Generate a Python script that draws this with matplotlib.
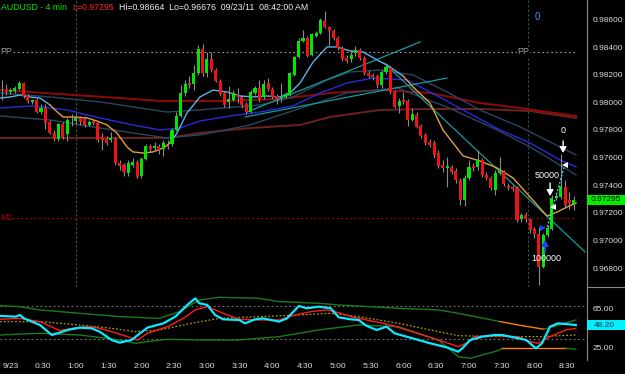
import numpy as np
import matplotlib
matplotlib.use('Agg')
import matplotlib.pyplot as plt
from matplotlib.transforms import blended_transform_factory
from matplotlib.patches import Rectangle
from matplotlib.lines import Line2D

plt.rcParams['font.family'] = ['Liberation Sans', 'DejaVu Sans']

# 4 minute bars, minutes after midnight of 9/23
bar_minutes = np.arange(-8, 520, 4)

opens = [
    0.98097, 0.98097, 0.98075, 0.98082, 0.98097, 0.98140, 0.98046, 0.98003, 0.98017, 0.97930,
    0.97959, 0.97858, 0.97778, 0.97735, 0.97843, 0.97771, 0.97872, 0.97865, 0.97887, 0.97879,
    0.97836, 0.97865, 0.97850, 0.97749, 0.97735, 0.97727, 0.97735, 0.97561, 0.97546, 0.97488,
    0.97546, 0.97568, 0.97467, 0.97590, 0.97684, 0.97669, 0.97684, 0.97662, 0.97684, 0.97698,
    0.97800, 0.97901, 0.98068, 0.98140, 0.98133, 0.98212, 0.98386, 0.98212, 0.98314, 0.98234,
    0.98155, 0.98068, 0.98003, 0.98017, 0.98053, 0.98039, 0.97988, 0.97930, 0.98068, 0.98104,
    0.98039, 0.98140, 0.98097, 0.98046, 0.98031, 0.98039, 0.98053, 0.98198, 0.98328, 0.98444,
    0.98466, 0.98343, 0.98480, 0.98502, 0.98589, 0.98546, 0.98517, 0.98466, 0.98393, 0.98321,
    0.98314, 0.98357, 0.98379, 0.98321, 0.98212, 0.98198, 0.98191, 0.98126, 0.98220, 0.98249,
    0.98075, 0.97974, 0.98017, 0.98010, 0.97872, 0.97908, 0.97829, 0.97764, 0.97713, 0.97706,
    0.97633, 0.97546, 0.97525, 0.97532, 0.97503, 0.97438, 0.97293, 0.97452, 0.97539, 0.97532,
    0.97583, 0.97474, 0.97452, 0.97365, 0.97488, 0.97496, 0.97394, 0.97387, 0.97380, 0.97155,
    0.97184, 0.97148, 0.97083, 0.97047, 0.96808, 0.97040, 0.97083, 0.97307, 0.97315, 0.97387,
    0.97293, 0.97264]
highs = [
    0.98162, 0.98133, 0.98104, 0.98118, 0.98155, 0.98147, 0.98060, 0.98024, 0.98031, 0.97988,
    0.97988, 0.97872, 0.97800, 0.97850, 0.97858, 0.97887, 0.97916, 0.97916, 0.97901, 0.97901,
    0.97872, 0.97879, 0.97865, 0.97778, 0.97756, 0.97785, 0.97749, 0.97583, 0.97561, 0.97583,
    0.97597, 0.97583, 0.97604, 0.97698, 0.97698, 0.97713, 0.97698, 0.97727, 0.97727, 0.97814,
    0.97930, 0.98126, 0.98162, 0.98191, 0.98270, 0.98415, 0.98422, 0.98365, 0.98365, 0.98249,
    0.98169, 0.98082, 0.98118, 0.98089, 0.98104, 0.98053, 0.98003, 0.98089, 0.98118, 0.98162,
    0.98162, 0.98176, 0.98111, 0.98060, 0.98140, 0.98075, 0.98220, 0.98336, 0.98466, 0.98524,
    0.98480, 0.98502, 0.98517, 0.98611, 0.98664, 0.98553, 0.98531, 0.98480, 0.98408, 0.98343,
    0.98379, 0.98408, 0.98393, 0.98336, 0.98234, 0.98212, 0.98205, 0.98234, 0.98278, 0.98263,
    0.98089, 0.98031, 0.98075, 0.98024, 0.97959, 0.97930, 0.97843, 0.97778, 0.97735, 0.97727,
    0.97655, 0.97583, 0.97604, 0.97546, 0.97525, 0.97452, 0.97474, 0.97583, 0.97561, 0.97655,
    0.97597, 0.97496, 0.97467, 0.97510, 0.97604, 0.97510, 0.97416, 0.97401, 0.97394, 0.97199,
    0.97206, 0.97163, 0.97098, 0.97098, 0.97054, 0.97112, 0.97329, 0.97344, 0.97626, 0.97438,
    0.97351, 0.97322]
lows = [
    0.98017, 0.98053, 0.98060, 0.98068, 0.98089, 0.98031, 0.97995, 0.97988, 0.97923, 0.97916,
    0.97807, 0.97771, 0.97720, 0.97720, 0.97735, 0.97720, 0.97829, 0.97843, 0.97836, 0.97822,
    0.97829, 0.97836, 0.97713, 0.97655, 0.97691, 0.97713, 0.97546, 0.97510, 0.97467, 0.97467,
    0.97532, 0.97452, 0.97452, 0.97583, 0.97641, 0.97655, 0.97626, 0.97612, 0.97662, 0.97684,
    0.97793, 0.97894, 0.98046, 0.98104, 0.98089, 0.98198, 0.98191, 0.98184, 0.98220, 0.98147,
    0.98046, 0.97966, 0.97959, 0.98010, 0.97995, 0.97959, 0.97916, 0.97923, 0.98053, 0.98003,
    0.98024, 0.98082, 0.98024, 0.97988, 0.98003, 0.98031, 0.98046, 0.98191, 0.98321, 0.98437,
    0.98328, 0.98336, 0.98473, 0.98495, 0.98538, 0.98408, 0.98451, 0.98379, 0.98299, 0.98285,
    0.98292, 0.98336, 0.98307, 0.98198, 0.98176, 0.98162, 0.98104, 0.98104, 0.98205, 0.98060,
    0.97959, 0.97923, 0.97988, 0.97829, 0.97865, 0.97814, 0.97742, 0.97691, 0.97677, 0.97597,
    0.97525, 0.97496, 0.97387, 0.97481, 0.97416, 0.97257, 0.97250, 0.97438, 0.97503, 0.97510,
    0.97460, 0.97438, 0.97365, 0.97329, 0.97474, 0.97394, 0.97365, 0.97358, 0.97134, 0.97134,
    0.97134, 0.97054, 0.97018, 0.96676, 0.96801, 0.97025, 0.97076, 0.97293, 0.97300, 0.97242,
    0.97228, 0.97221]
closes = [
    0.98094, 0.98075, 0.98089, 0.98104, 0.98140, 0.98046, 0.98010, 0.98017, 0.97930, 0.97959,
    0.97850, 0.97778, 0.97735, 0.97843, 0.97749, 0.97872, 0.97869, 0.97887, 0.97858, 0.97836,
    0.97858, 0.97850, 0.97727, 0.97727, 0.97706, 0.97742, 0.97561, 0.97539, 0.97496, 0.97561,
    0.97568, 0.97460, 0.97590, 0.97684, 0.97662, 0.97684, 0.97655, 0.97706, 0.97677, 0.97800,
    0.97901, 0.98068, 0.98133, 0.98126, 0.98212, 0.98386, 0.98212, 0.98314, 0.98234, 0.98155,
    0.98060, 0.97981, 0.98024, 0.98068, 0.98039, 0.97981, 0.97930, 0.98075, 0.98104, 0.98024,
    0.98133, 0.98097, 0.98039, 0.98024, 0.98039, 0.98060, 0.98212, 0.98328, 0.98444, 0.98466,
    0.98336, 0.98495, 0.98502, 0.98596, 0.98546, 0.98517, 0.98466, 0.98393, 0.98314, 0.98299,
    0.98343, 0.98379, 0.98321, 0.98212, 0.98191, 0.98184, 0.98126, 0.98220, 0.98256, 0.98075,
    0.97966, 0.98010, 0.98003, 0.97872, 0.97916, 0.97822, 0.97756, 0.97706, 0.97691, 0.97619,
    0.97539, 0.97525, 0.97539, 0.97496, 0.97438, 0.97293, 0.97452, 0.97532, 0.97525, 0.97583,
    0.97474, 0.97452, 0.97380, 0.97488, 0.97503, 0.97409, 0.97380, 0.97373, 0.97148, 0.97184,
    0.97155, 0.97076, 0.97047, 0.96808, 0.97040, 0.97090, 0.97307, 0.97322, 0.97394, 0.97257,
    0.97271, 0.97295]

# moving averages (minute, price)
fast_ma_t = [-9.6, 0, 8.8, 17.9, 27.1, 36.3, 40.8, 48.2, 57.3, 70.1, 79.3, 88.5, 97.6, 106.8,
             112.3, 121.4, 130.6, 139.8, 146.2, 152.6, 161.7, 173.6, 185.6, 198.4, 210.3, 222.2,
             235, 247, 256.1, 265.3, 277.2, 290, 299.1, 311, 323, 335.8, 345, 359.6, 368.8,
             384.3, 396.2, 405.4, 414.6, 430.1, 445.7, 460.4, 475.9, 491.5, 500.7, 509.8, 518.1]
fast_ma_p = [0.98031, 0.98039, 0.98053, 0.98039, 0.98031, 0.97981, 0.97945, 0.97894, 0.97894,
             0.97887, 0.97865, 0.97836, 0.97778, 0.97677, 0.97641, 0.97633, 0.97641, 0.97669,
             0.97706, 0.97778, 0.97923, 0.98039, 0.98089, 0.98075, 0.98046, 0.98039, 0.98046,
             0.98039, 0.98068, 0.98140, 0.98292, 0.98401, 0.98401, 0.98372, 0.98365, 0.98307,
             0.98270, 0.98191, 0.98111, 0.97995, 0.97800, 0.97706, 0.97612, 0.97575, 0.97525,
             0.97452, 0.97315, 0.97177, 0.97206, 0.97242, 0.97271]
# (first index, last index, colour) of the fast average
fast_ma_segments = [(0, 5, '#5ab4e8'), (5, 18, '#e0a040'), (18, 37, '#5ab4e8'), (37, 50, '#e0a040')]

blue_ma_t = [-9.6, 20.7, 51.8, 82.0, 112.3, 137.0, 155.3, 173.6, 201.1, 228.6, 258.9, 283.6,
             308.3, 332.1, 363.3, 384.3, 414.6, 448.5, 476.0, 503.4, 518.1]
blue_ma_p = [0.97959, 0.97974, 0.97945, 0.97887, 0.97836, 0.97800, 0.97814, 0.97865, 0.97901,
             0.97930, 0.97974, 0.98068, 0.98140, 0.98176, 0.98162, 0.98075, 0.97945, 0.97800,
             0.97706, 0.97583, 0.97532]
upper_env_t = [-9.6, 36.3, 82.0, 143.4, 173.6, 228.6, 258.9, 290.0, 311.0, 338.5, 368.8, 399.9,
               430.1, 466.8, 518.1]
upper_env_p = [0.98068, 0.98039, 0.98003, 0.97930, 0.97945, 0.97981, 0.98039, 0.98162, 0.98220,
               0.98234, 0.98198, 0.98075, 0.97945, 0.97822, 0.97619]
lower_env_t = [-9.6, 36.3, 82.0, 143.4, 173.6, 219.4, 246.9, 308.3, 354.1, 399.9, 445.7, 476.0,
               518.1]
lower_env_p = [0.97901, 0.97872, 0.97814, 0.97742, 0.97764, 0.97836, 0.97908, 0.98068, 0.98104,
               0.97966, 0.97800, 0.97677, 0.97474]
red_ma_t = [-9.6, 45.4, 100.4, 137.0, 192.0, 247.0, 292.7, 338.5, 384.3, 430.1, 466.8, 518.1]
red_ma_p = [0.98089, 0.98060, 0.98031, 0.98010, 0.98010, 0.98024, 0.98068, 0.98089, 0.98068,
            0.97995, 0.97959, 0.97901]
brown_ma_t = [-9.6, 45.4, 100.4, 143.4, 173.6, 219.4, 265.3, 292.7, 338.5, 384.3, 430.1, 476.0,
              518.1]
brown_ma_p = [0.97742, 0.97742, 0.97742, 0.97742, 0.97778, 0.97814, 0.97836, 0.97894, 0.97945,
              0.97952, 0.97952, 0.97937, 0.97887]

# hand drawn trend lines (start, end)
trend_t = [(216.7, 375.2), (214.9, 399.9), (343.1, 526.3)]
trend_p = [(0.97930, 0.98437), (0.97894, 0.98176), (0.98278, 0.96917)]

pp_level = 0.98365
m2_level = 0.97163
last_price = 0.97295
price_ticks = [0.968, 0.970, 0.972, 0.974, 0.976, 0.978, 0.980, 0.982, 0.984, 0.986]

# oscillator panel
osc_cyan_t = [-9.5, 5.0, 8.7, 12.4, 27.0, 37.9, 45.2, 52.5, 63.5, 74.4, 81.7, 92.7, 100.0, 110.9,
              125.5, 140.1, 151.1, 162.0, 169.3, 173.0, 180.3, 187.5, 194.9, 209.5, 215.0, 224.1,
              231.4, 238.7, 246.0, 253.3, 264.2, 271.5, 282.5, 293.4, 300.7, 311.7, 319.0, 326.3,
              335.4, 344.5, 351.8, 362.8, 373.7, 384.7, 399.3, 410.2, 413.9, 421.2, 432.1, 443.1,
              450.4, 457.7, 465.0, 472.3, 481.4, 486.9, 494.2, 501.5, 508.8, 517.9]
osc_cyan_v = [57.7, 57.0, 58.7, 55.2, 48.3, 37.8, 40.3, 43.1, 45.5, 44.8, 41.3, 32.6, 29.8, 32.6,
              45.5, 50.0, 57.0, 69.2, 76.1, 70.9, 69.2, 58.7, 54.2, 53.5, 50.0, 54.2, 55.2, 53.5,
              51.8, 55.2, 68.1, 65.7, 67.4, 65.7, 56.3, 54.2, 53.5, 47.3, 43.1, 46.5, 39.6, 36.1,
              32.6, 29.1, 25.0, 20.4, 23.9, 32.6, 36.1, 37.8, 37.8, 36.1, 34.4, 32.6, 23.9, 29.1,
              46.5, 50.0, 49.3, 48.2]
osc_red_t = [-9.5, 8.7, 27.0, 45.2, 56.2, 70.8, 78.1, 92.7, 107.3, 116.4, 125.5, 143.8, 158.4,
             169.3, 180.3, 194.9, 209.5, 227.7, 246.0, 260.6, 275.2, 289.8, 300.7, 311.7, 333.6,
             348.2, 362.8, 391.9, 410.2, 417.5, 424.8, 435.8, 446.7, 465.0, 475.9, 483.2, 494.2,
             508.8, 517.9]
osc_red_v = [54.2, 55.2, 51.8, 42.4, 44.8, 46.5, 45.8, 41.3, 36.1, 32.6, 39.6, 46.5, 55.2, 64.0,
             67.4, 60.5, 54.2, 53.5, 53.5, 58.7, 62.2, 64.0, 61.2, 57.0, 51.8, 48.3, 43.1, 32.6,
             25.7, 29.1, 36.1, 36.8, 36.8, 36.1, 30.9, 29.1, 36.1, 43.1, 44.8]
osc_avg_t = [-9.5, 27.0, 63.5, 92.7, 114.6, 136.5, 165.7, 191.2, 227.7, 264.2, 293.4, 319.0,
             355.5, 391.9, 410.2, 446.7, 483.2, 517.9]
osc_avg_v = [51.8, 51.8, 48.3, 44.8, 41.3, 43.1, 50.0, 55.2, 57.0, 58.7, 60.5, 57.0, 50.0, 41.3,
             37.1, 36.1, 36.1, 37.8]
band_up_t = [-9.5, 8.7, 27.0, 63.5, 100.0, 136.5, 154.7, 173.0, 191.2, 227.7, 246.0, 282.5,
             300.7, 355.5, 391.9, 410.2, 448.5, 465.0, 488.7, 517.9]
band_up_v = [68.5, 67.4, 64.0, 60.5, 57.0, 55.2, 62.2, 74.4, 77.2, 76.1, 72.7, 70.9, 69.2, 65.7,
             64.0, 60.5, 51.8, 48.3, 43.8, 53.5]
band_up_orange = (16, 18)
band_lo_t = [-9.5, 27.0, 63.5, 100.0, 114.6, 125.5, 143.8, 173.0, 209.5, 246.0, 282.5, 319.0,
             355.5, 391.9, 410.2, 421.2, 446.7, 450.4, 508.8, 517.9]
band_lo_v = [37.8, 39.6, 37.8, 32.6, 29.1, 30.9, 33.3, 32.6, 32.6, 36.1, 43.1, 48.3, 46.5, 32.6,
             15.2, 13.5, 21.5, 23.9, 23.9, 22.9]
band_lo_orange = (17, 18)
osc_levels = [68, 34]
osc_ticks = [25, 65]
osc_last = 48.20

time_ticks = [0, 30, 60, 90, 120, 150, 180, 210, 240, 270, 300, 330, 360, 390, 420, 450, 480, 510]
time_labels = ['9/23', '0:30', '1:00', '1:30', '2:00', '2:30', '3:00', '3:30', '4:00', '4:30',
               '5:00', '5:30', '6:00', '6:30', '7:00', '7:30', '8:00', '8:30']

W, H = 625, 374
fig = plt.figure(figsize=(W / 100, H / 100), dpi=100, facecolor='black')
ax = fig.add_axes([0, 1 - 287 / H, 587 / W, 287 / H], facecolor='black')
osc = fig.add_axes([0, 1 - 360 / H, 587 / W, 72 / H], facecolor='black')

for a in (ax, osc):
    for s in ('top', 'left', 'bottom'):
        a.spines[s].set_visible(False)
    a.spines['right'].set_color('#8a8a8a')
    a.set_xlim(-9.55, 528.1)
    a.yaxis.tick_right()
    a.tick_params(axis='y', length=0, pad=4, labelsize=6, colors='#dcdcdc')

ax.set_ylim(0.96663, 0.98741)
ax.set_yticks(price_ticks)
ax.set_yticklabels([f'{p:.5f}' for p in price_ticks])
ax.tick_params(axis='x', bottom=False, labelbottom=False)

osc.set_ylim(11.7, 86.9)
osc.set_yticks(osc_ticks)
osc.set_yticklabels([f'{v:.2f}' for v in osc_ticks])
osc.set_xticks(time_ticks)
osc.set_xticklabels(time_labels)
osc.tick_params(axis='x', length=0, pad=2, labelsize=6, colors='#dcdcdc')

# session separators and pivot levels
ax.axvline(60, color='#4a5a2a', lw=0.8, ls=(0, (2, 2)), zorder=1)
ax.axvline(474, color='#245a5a', lw=0.8, ls=(0, (2, 2)), zorder=1)
ax.plot([2.5, 517], [pp_level, pp_level], color='#a0a0a0', lw=0.8, ls=(0, (1.5, 2.5)), zorder=1)
ax.plot([1.5, 517], [m2_level, m2_level], color='#c00000', lw=0.8, ls=(0, (1.5, 2.5)), zorder=1)
ax.text(-9.5, pp_level, 'PP', color='#a0a0a0', fontsize=6.3, ha='left', va='center')
ax.text(470, pp_level, 'PP', color='#a0a0a0', fontsize=6.5, ha='center', va='center',
        bbox=dict(facecolor='black', edgecolor='none', pad=0.5), zorder=2)
ax.text(-9.5, m2_level, 'M2', color='#b00000', fontsize=6.3, ha='left', va='center')

# averages
ax.plot(brown_ma_t, brown_ma_p, color='#6e2020', lw=1.4, zorder=2)
ax.plot(red_ma_t, red_ma_p, color='#8e0a0a', lw=1.4, zorder=2)
ax.plot(upper_env_t, upper_env_p, color='#2a4560', lw=1, zorder=2)
ax.plot(lower_env_t, lower_env_p, color='#2a4560', lw=1, zorder=2)
ax.plot(blue_ma_t, blue_ma_p, color='#2a2ad8', lw=1, zorder=2)
for (t0, t1), (p0, p1) in zip(trend_t, trend_p):
    ax.plot([t0, t1], [p0, p1], color='#179a9a', lw=0.9, zorder=2)
for i0, i1, col in fast_ma_segments:
    ax.plot(fast_ma_t[i0:i1 + 1], fast_ma_p[i0:i1 + 1], color=col, lw=1, zorder=2)

# candles
o = np.array(opens)
c = np.array(closes)
up = c >= o
body_lo = np.minimum(o, c)
body_h = np.maximum(np.abs(c - o), 0.00003)
ax.vlines(bar_minutes, lows, highs, color='#8c8c8c', lw=0.8, zorder=3)
ax.bar(bar_minutes, body_h, bottom=body_lo, width=2.8,
       color=np.where(up, '#00e600', '#f01212'), linewidth=0, zorder=4)

# signal markers near the close
ax.text(482.3, 0.98618, '0', color='#3a9ad9', fontsize=7, ha='center', va='center')
ax.text(506.2, 0.97793, '0', color='white', fontsize=6.5, ha='center', va='center', zorder=6)
ax.text(491.5, 0.97467, '50000', color='white', fontsize=6.5, ha='center', va='center', zorder=6)
ax.text(491.1, 0.96866, '100000', color='white', fontsize=6.5, ha='center', va='center', zorder=6)
arrow = dict(arrowstyle='-|>,head_length=0.35,head_width=0.2', lw=1.0, shrinkA=0, shrinkB=0)
ax.annotate('', xy=(506.2, 0.97633), xytext=(506.2, 0.97720),
            arrowprops=dict(arrow, color='white'), zorder=6)
ax.annotate('', xy=(494.3, 0.97322), xytext=(494.3, 0.97416),
            arrowprops=dict(arrow, color='white'), zorder=6)
ax.annotate('', xy=(489.7, 0.97003), xytext=(489.7, 0.96909),
            arrowprops=dict(arrow, color='#2040ff'), zorder=6)
ax.plot([491.7, 508.2], [0.97098, 0.97561], color='#30e0ff', lw=0.9, ls=(0, (1.5, 1.5)), zorder=5)
ax.plot([508.0], [0.97546], marker='<', color='white', ms=4, mew=0, zorder=6)
ax.plot([497.0], [0.97242], marker='<', color='white', ms=4, mew=0, zorder=6)
ax.plot([487.9], [0.97090], marker='>', color='#2040ff', ms=4, mew=0, zorder=6)

# last price tag on the right scale
blend_p = blended_transform_factory(fig.transFigure, ax.transData)
fig.add_artist(Rectangle((587 / W, last_price - 0.00036), 38 / W, 0.00072,
                         transform=blend_p, facecolor='#00ee00', edgecolor='none',
                         clip_on=False, zorder=5))
fig.text(591 / W, last_price, f'{last_price:.5f}', transform=blend_p, color='black',
         fontsize=6, va='center', ha='left', zorder=6)

# oscillator
osc.axhline(osc_levels[0], color='#7a7a7a', lw=0.8, ls=(0, (1.5, 2.5)))
osc.axhline(osc_levels[1], color='#7a7a7a', lw=0.8, ls=(0, (1.5, 2.5)))
a0, a1 = band_up_orange
osc.plot(band_up_t[:a0 + 1], band_up_v[:a0 + 1], color='#1d7a1d', lw=1)
osc.plot(band_up_t[a0:a1 + 1], band_up_v[a0:a1 + 1], color='#ff8000', lw=1)
osc.plot(band_up_t[a1:], band_up_v[a1:], color='#1d7a1d', lw=1)
b0, b1 = band_lo_orange
osc.plot(band_lo_t[:b0 + 1], band_lo_v[:b0 + 1], color='#1d7a1d', lw=1)
osc.plot(band_lo_t[b0:b1 + 1], band_lo_v[b0:b1 + 1], color='#ff8000', lw=1)
osc.plot(band_lo_t[b1:], band_lo_v[b1:], color='#1d7a1d', lw=1)
osc.plot(osc_avg_t, osc_avg_v, color='#b09a00', lw=0.9, ls=(0, (1.5, 1.5)))
osc.plot(osc_red_t, osc_red_v, color='#ff1c1c', lw=1)
osc.plot(osc_cyan_t, osc_cyan_v, color='#10e8ff', lw=1.6)

blend_o = blended_transform_factory(fig.transFigure, osc.transData)
fig.add_artist(Rectangle((587 / W, osc_last - 5.2), 38 / W, 10.4,
                         transform=blend_o, facecolor='#00f0ff', edgecolor='none',
                         clip_on=False, zorder=5))
fig.text(594 / W, osc_last, f'{osc_last:.2f}', transform=blend_o, color='#103040',
         fontsize=6, va='center', ha='left', zorder=6)

fig.add_artist(Line2D([587 / W, 1], [1 - 287 / H, 1 - 287 / H], transform=fig.transFigure,
                      color='#8a8a8a', lw=0.8))

# header
hy = 1 - 7 / H
fig.text(1 / W, hy, 'AUDUSD - 4 min', color='#00e600', fontsize=6.3, va='center')
fig.text(72 / W, hy, f'L={last_price:.5f}', color='#ff2020', fontsize=6.3, va='center')
fig.text(119 / W, hy, 'Hi=0.98664  Lo=0.96676  09/23/11  08:42:00 AM', color='#eeeeee',
         fontsize=6.3, va='center')

fig.savefig('out.png', dpi=100, facecolor='black')
